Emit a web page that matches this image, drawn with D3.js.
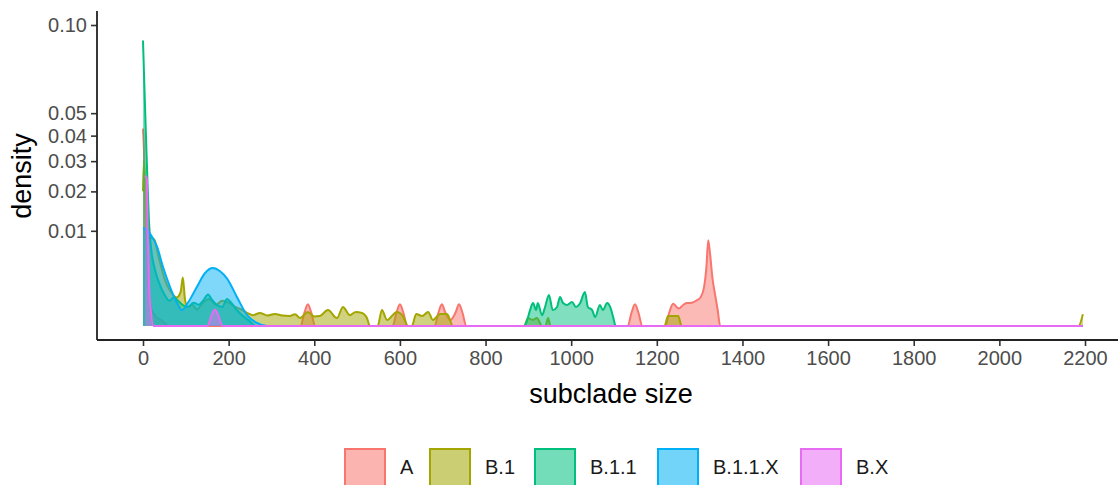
<!DOCTYPE html>
<html lang="en">
<head>
<meta charset="UTF-8">
<title>subclade size density</title>
<script src="https://d3js.org/d3.v7.min.js"></script>
<style>
body { margin: 0; background: #fff; }
svg text { font-family: "Liberation Sans", Arial, Helvetica, sans-serif; }
.tick text { fill: #4d4d4d; font-size: 20px; }
.tick line { stroke: #333; stroke-width: 1.6px; }
.eje { stroke: #222; stroke-width: 1.8px; }
.titulo { fill: #000; font-size: 27px; }
.leyenda text { fill: #1a1a1a; font-size: 20px; }
</style>
</head>
<body>
<svg id="chart" width="1118" height="485"></svg>
<script>
// grupos y colores (ggplot por defecto)
var linajes = ["A", "B.1", "B.1.1", "B.1.1.X", "B.X"];
var colores = ["#F8766D", "#A3A500", "#00BF7D", "#00B0F6", "#E76BF3"];

var xTicks = [0, 200, 400, 600, 800, 1000, 1200, 1400, 1600, 1800, 2000, 2200];
var yTicks = [0.01, 0.02, 0.03, 0.04, 0.05, 0.10];

// densidades: [tamano, densidad]
var densA = [
  [0, 0.043], [2, 0.035], [5, 0.015], [9, 0.004], [14, 0.001], [20, 0.0003], [30, 0.0001], [45, 0.00003], [60, 0],
  [368, 0], [377, 0.0002], [385, 0.00052], [393, 0.0002], [402, 0],
  [583, 0], [592, 0.0002], [600, 0.00052], [608, 0.0002], [617, 0],
  [681, 0], [690, 0.0002], [698, 0.00052], [706, 0.0002], [718, 0.00004], [730, 0.0002], [738, 0.00052], [746, 0.0002], [755, 0],
  [1132, 0], [1141, 0.0002], [1149, 0.00052], [1157, 0.0002], [1166, 0],
  [1220, 0], [1229, 0.0002], [1238, 0.00055], [1246, 0.0004], [1252, 0.00034], [1262, 0.0005], [1270, 0.00058],
  [1282, 0.0006], [1294, 0.00074], [1302, 0.0009], [1310, 0.0016], [1316, 0.004], [1320, 0.0081], [1324, 0.006],
  [1330, 0.0025], [1336, 0.0011], [1342, 0.0003], [1348, 0], [2195, 0]
];
var densB1 = [
  [0, 0.02], [2, 0.03], [5, 0.022], [10, 0.012], [16, 0.009], [22, 0.0085], [28, 0.008], [34, 0.006], [40, 0.0044],
  [50, 0.0025], [63, 0.0014], [79, 0.0009], [88, 0.0013], [93, 0.0026], [98, 0.0008], [104, 0.0004], [115, 0.0005],
  [126, 0.0003], [140, 0.0006], [155, 0.0008], [170, 0.0005], [185, 0.0007], [200, 0.0006], [215, 0.0004], [230, 0.0003],
  [243, 0.00019], [257, 0.00013], [273, 0.00019], [290, 0.00012], [308, 0.00016], [325, 0.00012], [343, 0.00011],
  [355, 0.00015], [367, 0.00007], [385, 0.00022], [400, 0.0001], [413, 0.00011], [432, 0.00028], [453, 0.00007],
  [467, 0.0004], [483, 0.00013], [497, 0.00022], [511, 0.00019], [523, 0.00007], [530, 0],
  [548, 0], [558, 0.00028], [570, 0.00004], [593, 0.00022], [607, 0.00011], [619, 0],
  [628, 0], [638, 0.00016], [652, 0.00011], [666, 0.00022], [677, 0.00004], [694, 0.00016], [710, 0.00016], [724, 0],
  [890, 0], [899, 0.00007], [910, 0.00004], [920, 0.00007], [932, 0], [940, 0], [946, 0.00007], [952, 0],
  [1218, 0], [1226, 0.00011], [1250, 0.00011], [1258, 0], [2185, 0], [2195, 0.00015]
];
var densB11 = [
  [0, 0.09], [3, 0.065], [6, 0.045], [10, 0.025], [14, 0.012], [20, 0.006], [28, 0.0035], [38, 0.002], [50, 0.0011],
  [62, 0.0007], [72, 0.0009], [80, 0.00075], [92, 0.0005], [105, 0.0004], [118, 0.0006], [130, 0.0005], [140, 0.0007],
  [152, 0.0011], [160, 0.0008], [172, 0.0005], [185, 0.0004], [196, 0.0008], [206, 0.0006], [218, 0.0003],
  [232, 0.00012], [248, 0.00003], [262, 0],
  [890, 0], [896, 0.00002], [904, 0.00028], [911, 0.00058], [918, 0.00028], [922, 0.00058], [932, 0.00013],
  [939, 0.0004], [948, 0.00106], [957, 0.00028], [967, 0.0004], [974, 0.00093], [981, 0.00058], [990, 0.00049],
  [1002, 0.00063], [1011, 0.0004], [1021, 0.00058], [1032, 0.00127], [1039, 0.0004], [1049, 0.00028], [1056, 0.00009],
  [1067, 0.00049], [1074, 0.00028], [1084, 0.00058], [1091, 0.0004], [1098, 0.00009], [1104, 0], [2195, 0]
];
var densB11X = [
  [0, 0.0106], [8, 0.0103], [16, 0.0095], [33, 0.0069], [47, 0.0038], [63, 0.0017], [79, 0.0006], [91, 0.00028],
  [105, 0.0006], [126, 0.0017], [145, 0.0031], [163, 0.0037], [180, 0.0033], [196, 0.0025], [220, 0.0009],
  [243, 0.00013], [266, 0.00001], [290, 0], [2195, 0]
];
var densBX = [
  [5, 0.025], [9, 0.024], [11, 0.01], [14, 0.002], [18, 0.0003], [25, 0],
  [150, 0], [160, 0.00012], [168, 0.0003], [176, 0.00012], [186, 0], [2195, 0]
];
var series = [densA, densB1, densB11, densB11X, densBX];

var svg = d3.select("#chart");
var x = d3.scaleLinear().domain([0, 2200]).range([143, 1085]);
var y = d3.scaleSqrt().domain([0, 0.1]).range([326, 25]);
var panel = { izq: 97, der: 1118, sup: 11, inf: 340 };

var area = d3.area()
  .x(function(d) { return x(d[0]); })
  .y0(y(0))
  .y1(function(d) { return y(d[1]); })
  .curve(d3.curveMonotoneX);
var linea = d3.line()
  .x(function(d) { return x(d[0]); })
  .y(function(d) { return y(d[1]); })
  .curve(d3.curveMonotoneX);

var g = svg.append("g");
series.forEach(function(s, i) {
  g.append("path").attr("d", area(s)).attr("fill", colores[i]).attr("fill-opacity", 0.5);
  g.append("path").attr("d", linea(s)).attr("fill", "none").attr("stroke", colores[i])
    .attr("stroke-width", 2).attr("stroke-linejoin", "round");
});

// ejes
var ejeX = svg.append("g").attr("transform", "translate(0," + panel.inf + ")")
  .call(d3.axisBottom(x).tickValues(xTicks).tickFormat(d3.format("d")).tickSize(6).tickPadding(5));
ejeX.select(".domain").remove();
ejeX.append("line").attr("class", "eje").attr("x1", panel.izq).attr("x2", panel.der);

var ejeY = svg.append("g").attr("transform", "translate(" + panel.izq + ",0)")
  .call(d3.axisLeft(y).tickValues(yTicks).tickFormat(d3.format(".2f")).tickSize(6).tickPadding(4));
ejeY.select(".domain").remove();
ejeY.append("line").attr("class", "eje").attr("y1", panel.sup).attr("y2", panel.inf);
svg.selectAll(".tick text").attr("font-family", null).attr("font-size", null);

svg.append("text").attr("class", "titulo").attr("x", 611).attr("y", 403)
  .attr("text-anchor", "middle").text("subclade size");
svg.append("text").attr("class", "titulo")
  .attr("transform", "translate(31,176) rotate(-90)")
  .attr("text-anchor", "middle").text("density");

// leyenda
var leyX = [345, 430, 535, 658, 801];
var ley = svg.append("g").attr("class", "leyenda");
linajes.forEach(function(l, i) {
  ley.append("rect").attr("x", leyX[i]).attr("y", 449).attr("width", 40).attr("height", 38)
    .attr("fill", colores[i]).attr("fill-opacity", 0.55)
    .attr("stroke", colores[i]).attr("stroke-width", 2);
  ley.append("text").attr("x", leyX[i] + 55).attr("y", 474).text(l);
});
</script>
</body>
</html>
